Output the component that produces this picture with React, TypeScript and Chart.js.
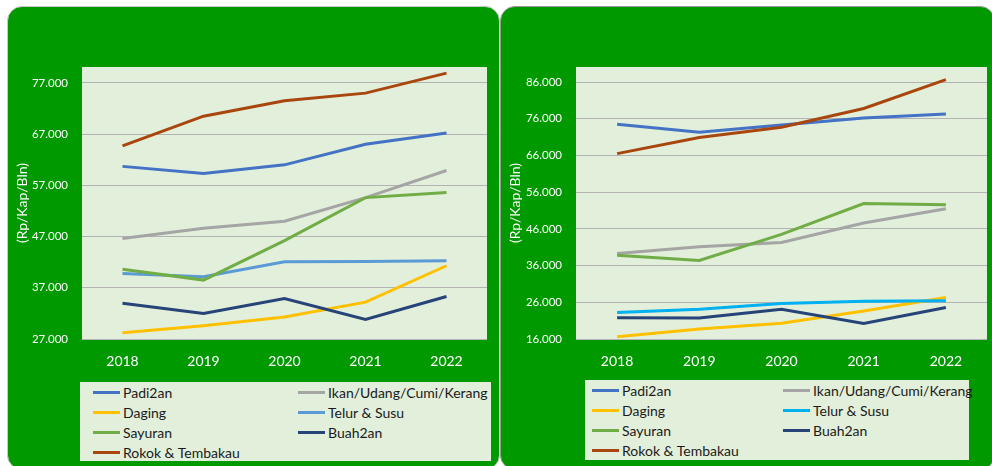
import React, { useEffect, useRef } from "react";
import { Chart, registerables } from "chart.js";

Chart.register(...registerables);

const years = ["2018", "2019", "2020", "2021", "2022"];
const seriesNames = [
  "Padi2an",
  "Ikan/Udang/Cumi/Kerang",
  "Daging",
  "Telur & Susu",
  "Sayuran",
  "Buah2an",
  "Rokok & Tembakau",
];

// Left chart values (Rp/Kap/Bln)
const padiA = [60700, 59300, 61000, 65000, 67200];
const ikanA = [46600, 48600, 50000, 54600, 59900];
const dagingA = [28200, 29600, 31300, 34200, 41300];
const telurA = [39800, 39150, 42100, 42150, 42300];
const sayurA = [40600, 38500, 46200, 54600, 55600];
const buahA = [34000, 32000, 34900, 30800, 35300];
const rokokA = [64700, 70500, 73500, 75000, 78900];
const ticksA = [27000, 37000, 47000, 57000, 67000, 77000];

// Right chart values (Rp/Kap/Bln)
const padiB = [74500, 72300, 74300, 76200, 77300];
const ikanB = [39300, 41100, 42300, 47600, 51500];
const dagingB = [16600, 18700, 20300, 23600, 27300];
const telurB = [23200, 24100, 25700, 26300, 26400];
const sayurB = [38800, 37400, 44500, 52900, 52600];
const buahB = [21800, 21700, 24100, 20200, 24600];
const rokokB = [66500, 70900, 73700, 78800, 86650];
const ticksB = [16000, 26000, 36000, 46000, 56000, 66000, 76000, 86000];

const colorsA = ["#4472C4", "#A5A5A5", "#FFC000", "#5B9BD5", "#70AD47", "#264478", "#A9460E"];
const colorsB = ["#4472C4", "#A5A5A5", "#FFC000", "#00B0F0", "#70AD47", "#264478", "#A9460E"];

const FONT = "Lato, 'Open Sans', sans-serif";
const PLOT_BG = "#E2EFDA";
const PANEL = "#009900";

const fmt = (v: number) => String(v).replace(/\B(?=(\d{3})+(?!\d))/g, ".");

const bgPlugin = {
  id: "plotBg",
  beforeDraw(chart: any) {
    const { ctx, chartArea } = chart;
    if (!chartArea) return;
    ctx.save();
    ctx.fillStyle = PLOT_BG;
    ctx.fillRect(chartArea.left, chartArea.top, chartArea.right - chartArea.left, chartArea.bottom - chartArea.top);
    ctx.restore();
  },
};

function makeConfig(
  data: number[][],
  colors: string[],
  ticks: number[],
  min: number,
  max: number,
  yWidth: number,
  rightPad: number,
  titlePad: number
): any {
  return {
    type: "line",
    data: {
      labels: years,
      datasets: data.map((d, i) => ({
        label: seriesNames[i],
        data: d,
        borderColor: colors[i],
        backgroundColor: colors[i],
        borderWidth: 3,
        pointRadius: 0,
        tension: 0,
        order: data.length - i,
      })),
    },
    options: {
      responsive: false,
      animation: false,
      layout: { padding: { top: 60, left: 0, right: rightPad, bottom: 0 } },
      plugins: { legend: { display: false }, tooltip: { enabled: false } },
      scales: {
        x: {
          offset: true,
          grid: { display: false, drawTicks: false },
          border: { display: false },
          ticks: { color: "#FFFFFF", font: { family: FONT, size: 14 }, padding: 14, maxRotation: 0 },
          afterFit: (s: any) => {
            s.height = 38;
          },
        },
        y: {
          min,
          max,
          grid: { color: "#B3B3B3", lineWidth: 1, drawTicks: false },
          border: { display: false },
          ticks: {
            color: "#FFFFFF",
            font: { family: FONT, size: 11.5 },
            padding: 14,
            callback: (v: any) => fmt(Number(v)),
          },
          afterBuildTicks: (s: any) => {
            s.ticks = ticks.map((v) => ({ value: v }));
          },
          afterFit: (s: any) => {
            s.width = yWidth;
          },
          title: {
            display: true,
            text: "(Rp/Kap/Bln)",
            color: "#FFFFFF",
            font: { family: FONT, size: 14 },
            padding: { top: titlePad, bottom: 0 },
          },
        },
      },
    },
    plugins: [bgPlugin],
  };
}

function Legend(props: {
  colors: string[];
  left: number;
  top: number;
  width: number;
  height: number;
  col1: number;
  col2: number;
}) {
  const { colors, left, top, width, height, col1, col2 } = props;
  return (
    <div
      style={{
        position: "absolute",
        left,
        top,
        width,
        height,
        background: PLOT_BG,
      }}
    >
      {seriesNames.map((name, i) => {
        const row = Math.floor(i / 2);
        const col = i % 2;
        return (
          <div
            key={name}
            style={{
              position: "absolute",
              left: col === 0 ? col1 : col2,
              top: row * 20,
              height: 20,
              display: "flex",
              alignItems: "center",
              whiteSpace: "nowrap",
            }}
          >
            <div style={{ width: 27, height: 3, background: colors[i] }} />
            <span style={{ marginLeft: 3, fontFamily: FONT, fontSize: 14, color: "#1a1a1a" }}>{name}</span>
          </div>
        );
      })}
    </div>
  );
}

export default function App() {
  const refA = useRef<HTMLCanvasElement>(null);
  const refB = useRef<HTMLCanvasElement>(null);

  useEffect(() => {
    const cA = new Chart(
      refA.current!,
      makeConfig([padiA, ikanA, dagingA, telurA, sayurA, buahA, rokokA], colorsA, ticksA, 27000, 80100, 74, 12, 6)
    );
    const cB = new Chart(
      refB.current!,
      makeConfig([padiB, ikanB, dagingB, telurB, sayurB, buahB, rokokB], colorsB, ticksB, 16000, 90100, 76, 5, 7)
    );
    return () => {
      cA.destroy();
      cB.destroy();
    };
  }, []);

  return (
    <div
      style={{
        position: "absolute",
        left: 0,
        top: 0,
        width: 992,
        height: 466,
        overflow: "hidden",
        background: "#FFFFFF",
      }}
    >
      <div
        style={{
          position: "absolute",
          left: 7,
          top: 6,
          width: 493,
          height: 464,
          background: PANEL,
          borderRadius: 15,
          border: "1px solid #C9C9C9",
          boxSizing: "border-box",
        }}
      />
      <div
        style={{
          position: "absolute",
          left: 500,
          top: 6,
          width: 495,
          height: 464,
          background: PANEL,
          borderRadius: 15,
          border: "1px solid #9A9A9A",
          boxSizing: "border-box",
        }}
      />
      <canvas ref={refA} width={491} height={370} style={{ position: "absolute", left: 8, top: 7 }} />
      <canvas ref={refB} width={492} height={370} style={{ position: "absolute", left: 500, top: 7 }} />
      <Legend colors={colorsA} left={80} top={382} width={411} height={79} col1={13} col2={218} />
      <Legend colors={colorsB} left={585} top={380} width={384} height={80} col1={7} col2={198} />
    </div>
  );
}
